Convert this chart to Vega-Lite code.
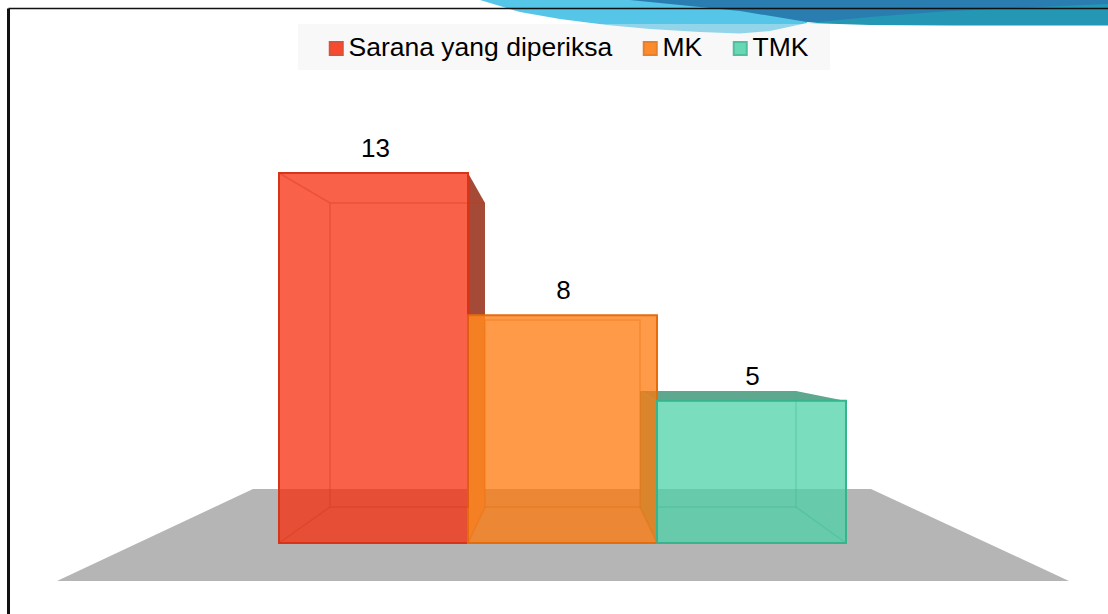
{
"$schema":"https://vega.github.io/schema/vega-lite/v6.json",
"width":1108,"height":614,"padding":0,"autosize":{"type":"none"},"background":"white",
"config":{"view":{"stroke":null},"font":"Liberation Sans"},
"datasets":{
"bars":[
{"category":"Sarana yang diperiksa","value":13,"x":0,"x2":1,"base":0,"center":0.51},
{"category":"MK","value":8,"x":1,"x2":2,"base":0,"center":1.505},
{"category":"TMK","value":5,"x":2,"x2":3,"base":0,"center":2.505}],
"floor":[{"x":-1.1746,"y":-1.335,"y2":-1.335},{"x":-0.1376,"y":1.897,"y2":-1.335},{"x":3.1323,"y":1.897,"y2":-1.335},{"x":4.1799,"y":-1.335,"y2":-1.335}],
"swoosh":[
{"part":"light","x":1.0635,"y":19.078,"y2":19.078},{"part":"light","x":1.2751,"y":19.078,"y2":18.657},{"part":"light","x":1.4868,"y":19.078,"y2":18.411},{"part":"light","x":1.7354,"y":19.078,"y2":18.2},{"part":"light","x":1.963,"y":19.078,"y2":18.06},{"part":"light","x":2.2275,"y":19.078,"y2":17.954},{"part":"light","x":2.4392,"y":19.078,"y2":17.902},{"part":"light","x":2.5979,"y":19.078,"y2":17.989},{"part":"light","x":2.7937,"y":19.078,"y2":18.271},
{"part":"dark","x":1.8571,"y":19.078,"y2":19.078},{"part":"dark","x":2.1217,"y":19.078,"y2":18.903},{"part":"dark","x":2.4392,"y":19.078,"y2":18.692},{"part":"dark","x":2.7937,"y":19.078,"y2":18.306},{"part":"dark","x":2.9683,"y":19.078,"y2":18.306},{"part":"dark","x":3.1429,"y":19.078,"y2":18.218},{"part":"dark","x":4.3862,"y":19.078,"y2":18.2},
{"part":"teal","x":2.7937,"y":18.271,"y2":18.271},{"part":"teal","x":3.127,"y":18.481,"y2":18.2},{"part":"teal","x":3.5503,"y":18.692,"y2":18.183},{"part":"teal","x":4.3862,"y":18.938,"y2":18.183}],
"panel":[{"x":0.1006,"x2":2.9153,"y":18.236,"y2":16.62}],
"faces":[
{"face":"redSide","x":1,"y":13,"y2":8},{"face":"redSide","x":1.0899,"y":11.946,"y2":8},
{"face":"redSideLow","x":1,"y":8,"y2":0},{"face":"redSideLow","x":1.0899,"y":8,"y2":1.265},
{"face":"greenLeft","x":1.9101,"y":5.341,"y2":1.265},{"face":"greenLeft","x":2,"y":4.989,"y2":0},
{"face":"greenTop","x":1.9101,"y":5.341,"y2":5.341},{"face":"greenTop","x":2,"y":5.341,"y2":4.989},{"face":"greenTop","x":2.7354,"y":5.341,"y2":4.989},{"face":"greenTop","x":3,"y":4.989,"y2":4.989}],
"edges":[
{"bar":"Sarana yang diperiksa","seg":"r0","k":0,"x":0.2698,"y":11.946},{"bar":"Sarana yang diperiksa","seg":"r0","k":1,"x":1.0899,"y":11.946},{"bar":"Sarana yang diperiksa","seg":"r0","k":2,"x":1,"y":11.946},{"bar":"Sarana yang diperiksa","seg":"r0","k":3,"x":1,"y":1.265},{"bar":"Sarana yang diperiksa","seg":"r0","k":4,"x":0.2698,"y":1.265},{"bar":"Sarana yang diperiksa","seg":"r0","k":5,"x":0.2698,"y":11.946},
{"bar":"Sarana yang diperiksa","seg":"r1","k":0,"x":0,"y":13},{"bar":"Sarana yang diperiksa","seg":"r1","k":1,"x":0.2698,"y":11.946},
{"bar":"Sarana yang diperiksa","seg":"r3","k":0,"x":0,"y":0},{"bar":"Sarana yang diperiksa","seg":"r3","k":1,"x":0.2698,"y":1.265},
{"bar":"MK","seg":"o0","k":0,"x":1.0899,"y":7.835},{"bar":"MK","seg":"o0","k":1,"x":1.9101,"y":7.835},{"bar":"MK","seg":"o0","k":2,"x":1.9101,"y":1.265},{"bar":"MK","seg":"o0","k":3,"x":1.0899,"y":1.265},{"bar":"MK","seg":"o0","k":4,"x":1.0899,"y":7.835},
{"bar":"MK","seg":"o1","k":0,"x":1,"y":0},{"bar":"MK","seg":"o1","k":1,"x":1.0899,"y":1.265},
{"bar":"MK","seg":"o2","k":0,"x":2,"y":0},{"bar":"MK","seg":"o2","k":1,"x":1.9101,"y":1.265},
{"bar":"TMK","seg":"g0","k":0,"x":2,"y":1.265},{"bar":"TMK","seg":"g0","k":1,"x":2.7354,"y":1.265},{"bar":"TMK","seg":"g0","k":2,"x":2.7354,"y":5.341},
{"bar":"TMK","seg":"g1","k":0,"x":2.7354,"y":1.265},{"bar":"TMK","seg":"g1","k":1,"x":3,"y":0}],
"frame":[{"side":"top","x":-1.4312,"y":18.78},{"side":"top","x":4.3862,"y":18.78},{"side":"left","x":-1.4312,"y":18.78},{"side":"left","x":-1.4312,"y":-2.4946}]
},
"layer":[
{"data":{"name":"floor"},"mark":{"type":"area","orient":"vertical","fill":"#b5b5b5"},
"encoding":{"x":{"field":"x","type":"quantitative","scale":{"domain":[-1.4762,4.3862],"nice":false,"zero":false},"axis":null},"y":{"field":"y","type":"quantitative","scale":{"domain":[-2.4946,19.0784],"nice":false,"zero":false},"axis":null},"y2":{"field":"y2"}}},
{"data":{"name":"swoosh"},"transform":[{"filter":"datum.part==='light'"}],"mark":{"type":"area","orient":"vertical","fill":"#55c5e8"},
"encoding":{"x":{"field":"x","type":"quantitative","axis":null},"y":{"field":"y","type":"quantitative","axis":null},"y2":{"field":"y2"}}},
{"data":{"name":"swoosh"},"transform":[{"filter":"datum.part==='dark'"}],"mark":{"type":"area","orient":"vertical","fill":"#2a7db0"},
"encoding":{"x":{"field":"x","type":"quantitative","axis":null},"y":{"field":"y","type":"quantitative","axis":null},"y2":{"field":"y2"}}},
{"data":{"name":"swoosh"},"transform":[{"filter":"datum.part==='teal'"}],"mark":{"type":"area","orient":"vertical","fill":"#2497b5"},
"encoding":{"x":{"field":"x","type":"quantitative","axis":null},"y":{"field":"y","type":"quantitative","axis":null},"y2":{"field":"y2"}}},
{"data":{"name":"frame"},"transform":[{"filter":"datum.side==='top'"}],"mark":{"type":"line","stroke":"#111111","strokeWidth":1.5},
"encoding":{"x":{"field":"x","type":"quantitative","axis":null},"y":{"field":"y","type":"quantitative","axis":null}}},
{"data":{"name":"frame"},"transform":[{"filter":"datum.side==='left'"}],"mark":{"type":"line","stroke":"#111111","strokeWidth":3},
"encoding":{"x":{"field":"x","type":"quantitative","axis":null},"y":{"field":"y","type":"quantitative","axis":null}}},
{"data":{"name":"panel"},"mark":{"type":"rect","fill":"#ededed","fillOpacity":0.4},
"encoding":{"x":{"field":"x","type":"quantitative","axis":null},"x2":{"field":"x2"},"y":{"field":"y","type":"quantitative","axis":null},"y2":{"field":"y2"}}},
{"data":{"name":"faces"},"transform":[{"filter":"datum.face==='redSide'"}],"mark":{"type":"area","orient":"vertical","fill":"#a44a36"},
"encoding":{"x":{"field":"x","type":"quantitative","axis":null},"y":{"field":"y","type":"quantitative","axis":null},"y2":{"field":"y2"}}},
{"data":{"name":"faces"},"transform":[{"filter":"datum.face==='redSideLow'"}],"mark":{"type":"area","orient":"vertical","fill":"#dc9870"},
"encoding":{"x":{"field":"x","type":"quantitative","axis":null},"y":{"field":"y","type":"quantitative","axis":null},"y2":{"field":"y2"}}},
{"data":{"name":"faces"},"transform":[{"filter":"datum.face==='greenLeft'"}],"mark":{"type":"area","orient":"vertical","fill":"#6fa890"},
"encoding":{"x":{"field":"x","type":"quantitative","axis":null},"y":{"field":"y","type":"quantitative","axis":null},"y2":{"field":"y2"}}},
{"data":{"name":"faces"},"transform":[{"filter":"datum.face==='greenTop'"}],"mark":{"type":"area","orient":"vertical","fill":"#5fa890"},
"encoding":{"x":{"field":"x","type":"quantitative","axis":null},"y":{"field":"y","type":"quantitative","axis":null},"y2":{"field":"y2"}}},
{"data":{"name":"bars"},"mark":{"type":"rect","fillOpacity":0.75,"strokeWidth":2},
"encoding":{"x":{"field":"x","type":"quantitative","axis":null},"x2":{"field":"x2"},"y":{"field":"value","type":"quantitative","axis":null},"y2":{"field":"base"},
"fill":{"field":"category","type":"nominal","scale":{"domain":["Sarana yang diperiksa","MK","TMK"],"range":["#f82c0c","#fd780b","#4ed3a8"]},
"legend":{"title":null,"orient":"none","legendX":323,"legendY":35,"direction":"horizontal","columns":3,"symbolType":"square","symbolSize":169,"symbolOpacity":0.85,"symbolStrokeWidth":2,"labelFont":"Liberation Sans","labelFontSize":26.5,"labelColor":"#000000","labelOffset":-1,"columnPadding":24,"padding":0,"labelLimit":400}},
"stroke":{"field":"category","type":"nominal","scale":{"domain":["Sarana yang diperiksa","MK","TMK"],"range":["#d8341a","#e56c0a","#37b48e"]},
"legend":{"title":null,"orient":"none","legendX":323,"legendY":35,"direction":"horizontal","columns":3,"symbolType":"square","symbolSize":169,"symbolOpacity":0.85,"symbolStrokeWidth":2,"labelFont":"Liberation Sans","labelFontSize":26.5,"labelColor":"#000000","labelOffset":-1,"columnPadding":24,"padding":0,"labelLimit":400}}}},
{"data":{"name":"edges"},"mark":{"type":"line","strokeWidth":1.5,"opacity":0.35},
"encoding":{"x":{"field":"x","type":"quantitative","axis":null},"y":{"field":"y","type":"quantitative","axis":null},"order":{"field":"k"},"detail":{"field":"seg"},
"stroke":{"field":"bar","type":"nominal","scale":{"domain":["Sarana yang diperiksa","MK","TMK"],"range":["#d8341a","#e56c0a","#37b48e"]},"title":null}}},
{"data":{"name":"bars"},"mark":{"type":"text","font":"Liberation Sans","fontSize":26,"color":"#000000","baseline":"middle","dy":-24},
"encoding":{"x":{"field":"center","type":"quantitative","axis":null},"y":{"field":"value","type":"quantitative","axis":null},"text":{"field":"value","type":"quantitative"}}}
]
}
